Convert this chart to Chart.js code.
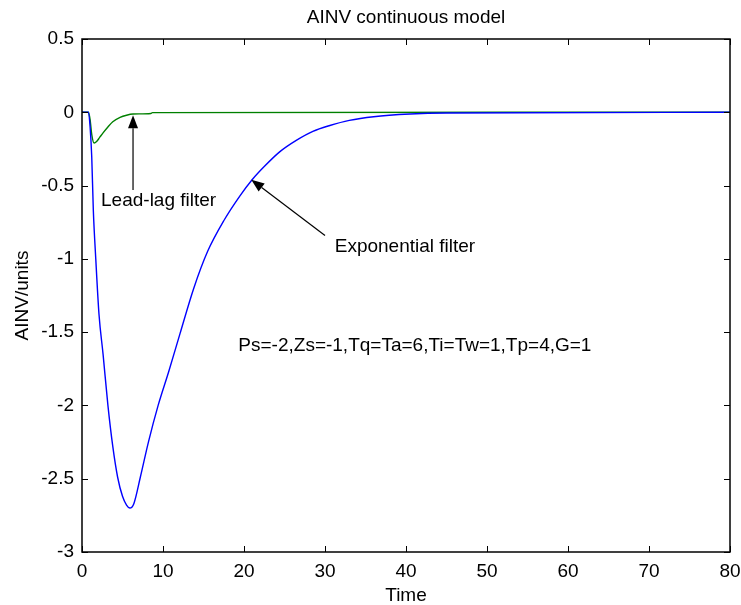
<!DOCTYPE html>
<html>
<head>
<meta charset="utf-8">
<script src="https://cdn.jsdelivr.net/npm/chart.js@4"></script>
<style>
  html, body { margin: 0; padding: 0; background: #fff; }
  #wrap { width: 741px; height: 605px; }
</style>
</head>
<body>
<div id="wrap"><canvas id="chart_1" width="741" height="605"></canvas></div>
<script>
// data
const expTime = [0, 0.8, 1.0, 1.2, 1.4, 1.7, 2.1, 2.6, 3.2, 3.8, 4.4, 5.0, 5.5, 5.9, 6.4, 7.2, 8.2, 9.4, 10.7, 12.1, 13.8, 15.5, 17.5, 19.5, 21, 22.5, 24.4, 26.5, 28.5, 30.6, 33, 36, 40.5, 45, 80];
const expValues = [0, 0, -0.1, -0.3, -0.67, -1.0, -1.38, -1.65, -2.0, -2.28, -2.49, -2.62, -2.68, -2.70, -2.67, -2.49, -2.25, -2.0, -1.77, -1.51, -1.2, -0.95, -0.74, -0.57, -0.46, -0.37, -0.27, -0.19, -0.13, -0.09, -0.055, -0.03, -0.012, -0.005, 0];
const lagTime = [0, 0.8, 1.0, 1.2, 1.5, 1.8, 2.2, 2.6, 3.2, 3.8, 4.7, 5.5, 6.3, 8.5, 8.7, 80];
const lagValues = [0, 0, -0.05, -0.15, -0.21, -0.2, -0.17, -0.14, -0.1, -0.065, -0.035, -0.02, -0.012, -0.008, -0.002, 0];
const xTicks = [0, 10, 20, 30, 40, 50, 60, 70, 80];
const yTicks = [0.5, 0, -0.5, -1, -1.5, -2, -2.5, -3];

const FONT = '"Liberation Sans", Arial, sans-serif';

const toPoints = (xs, ys) => xs.map((x, i) => ({ x: x, y: ys[i] }));

// text and arrows, in data units
const notes = [
    { text: 'Lead-lag filter', x: 2.35, y: -0.64, size: 19 },
    { text: 'Exponential filter', x: 31.2, y: -0.955, size: 19 },
    { text: 'Ps=-2,Zs=-1,Tq=Ta=6,Ti=Tw=1,Tp=4,G=1', x: 19.3, y: -1.63, size: 19 }
];
const arrows = [
    { from: [6.3, -0.53], to: [6.3, -0.02] },
    { from: [30, -0.84], to: [20.9, -0.46] }
];

const matlabFrame = {
    id: 'matlabFrame',
    afterDatasetsDraw(chart) {
        const ctx = chart.ctx;
        const a = chart.chartArea;
        const sx = chart.scales.x, sy = chart.scales.y;
        ctx.save();
        ctx.strokeStyle = '#000';
        ctx.lineWidth = 1;
        // inward ticks on all four sides
        ctx.beginPath();
        xTicks.forEach(v => {
            const px = Math.round(sx.getPixelForValue(v)) + 0.5;
            ctx.moveTo(px, a.bottom); ctx.lineTo(px, a.bottom - 6);
            ctx.moveTo(px, a.top); ctx.lineTo(px, a.top + 6);
        });
        yTicks.forEach(v => {
            const py = Math.round(sy.getPixelForValue(v)) + 0.5;
            ctx.moveTo(a.left, py); ctx.lineTo(a.left + 6, py);
            ctx.moveTo(a.right, py); ctx.lineTo(a.right - 6, py);
        });
        ctx.stroke();
        ctx.lineWidth = 1.5;
        ctx.strokeRect(a.left, a.top, a.right - a.left, a.bottom - a.top);

        // annotations
        ctx.fillStyle = '#000';
        ctx.textBaseline = 'alphabetic';
        ctx.textAlign = 'left';
        notes.forEach(n => {
            ctx.font = n.size + 'px ' + FONT;
            ctx.fillText(n.text, sx.getPixelForValue(n.x), sy.getPixelForValue(n.y));
        });
        ctx.lineWidth = 1.2;
        arrows.forEach(ar => {
            const x0 = sx.getPixelForValue(ar.from[0]), y0 = sy.getPixelForValue(ar.from[1]);
            const x1 = sx.getPixelForValue(ar.to[0]), y1 = sy.getPixelForValue(ar.to[1]);
            const ang = Math.atan2(y1 - y0, x1 - x0);
            const len = 13, half = 5;
            const bx = x1 - len * Math.cos(ang), by = y1 - len * Math.sin(ang);
            ctx.beginPath();
            ctx.moveTo(x0, y0); ctx.lineTo(bx, by);
            ctx.stroke();
            ctx.beginPath();
            ctx.moveTo(x1, y1);
            ctx.lineTo(bx + half * Math.sin(ang), by - half * Math.cos(ang));
            ctx.lineTo(bx - half * Math.sin(ang), by + half * Math.cos(ang));
            ctx.closePath();
            ctx.fill();
        });

        // title and axis labels
        ctx.textAlign = 'center';
        ctx.font = '19px ' + FONT;
        const cx = (a.left + a.right) / 2;
        ctx.fillText('AINV continuous model', cx, 23);
        ctx.fillText('Time', cx, 601);
        ctx.translate(28, (a.top + a.bottom) / 2);
        ctx.rotate(-Math.PI / 2);
        ctx.fillText('AINV/units', 0, 0);
        ctx.restore();
    }
};

const chartLine = {
    type: 'line',
    data: {
        datasets: [{
            label: 'Exponential filter',
            data: toPoints(expTime, expValues),
            borderColor: '#0000ff',
            borderWidth: 1.4,
            pointRadius: 0,
            cubicInterpolationMode: 'monotone',
            fill: false
        }, {
            label: 'Lead-lag filter',
            data: toPoints(lagTime, lagValues),
            borderColor: '#008000',
            borderWidth: 1.4,
            pointRadius: 0,
            cubicInterpolationMode: 'monotone',
            fill: false
        }]
    },
    options: {
        responsive: false,
        animation: false,
        layout: { padding: { top: 39, right: 11, left: 0, bottom: 0 } },
        plugins: {
            legend: { display: false },
            title: { display: false },
            tooltip: { enabled: false }
        },
        scales: {
            x: {
                type: 'linear',
                min: 0, max: 80,
                afterBuildTicks: s => { s.ticks = xTicks.map(v => ({ value: v })); },
                afterFit: s => { s.height = 53; s.paddingLeft = 0; s.paddingRight = 0; },
                grid: { drawOnChartArea: false, drawTicks: false },
                border: { display: false },
                ticks: { color: '#000', padding: 8, font: { family: FONT, size: 19 }, maxRotation: 0 }
            },
            y: {
                type: 'linear',
                min: -3, max: 0.5,
                afterBuildTicks: s => { s.ticks = yTicks.map(v => ({ value: v })); },
                afterFit: s => { s.width = 82; s.paddingTop = 0; s.paddingBottom = 0; },
                grid: { drawOnChartArea: false, drawTicks: false },
                border: { display: false },
                ticks: { color: '#000', padding: 8, font: { family: FONT, size: 19 }, callback: v => String(+v.toFixed(1)) }
            }
        }
    },
    plugins: [matlabFrame]
};

const ctx_1 = document.getElementById('chart_1').getContext('2d');
const chart_1 = new Chart(ctx_1, chartLine);
</script>
</body>
</html>
